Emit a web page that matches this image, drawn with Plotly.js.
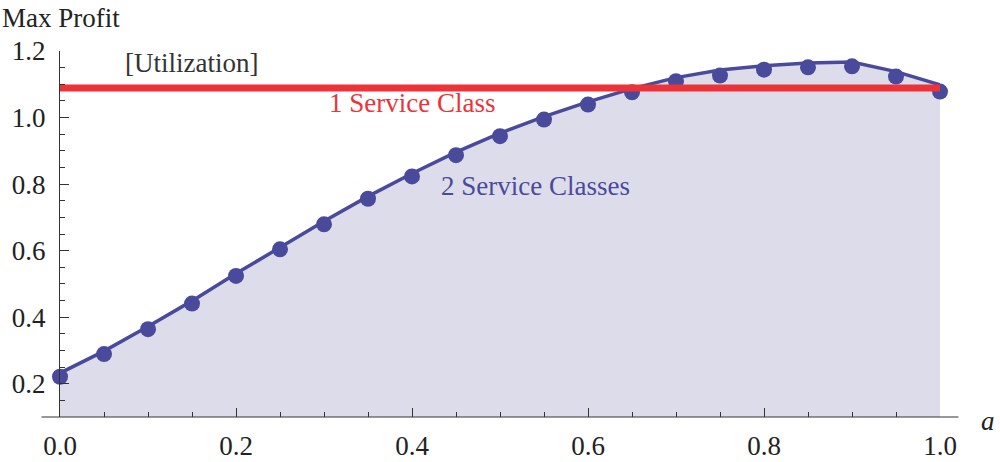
<!DOCTYPE html>
<html>
<head>
<meta charset="utf-8">
<script src="https://cdn.plot.ly/plotly-3.0.1.min.js"></script>
<style>
  html, body { margin: 0; padding: 0; background: #fff; }
  #chart { width: 1000px; height: 462px; }
</style>
</head>
<body>
<div id="chart"></div>
<script>
// a values shared by the curve and the simulated points
var alphaVals = [0, 0.05, 0.1, 0.15, 0.2, 0.25, 0.3, 0.35, 0.4, 0.45, 0.5,
                 0.55, 0.6, 0.65, 0.7, 0.75, 0.8, 0.85, 0.9, 0.95, 1.0];

// 2 service classes - analytic curve
var twoClassCurve = [0.232, 0.298, 0.372, 0.449, 0.531, 0.611, 0.688, 0.763, 0.832, 0.896, 0.953,
                     1.003, 1.047, 1.087, 1.120, 1.143, 1.156, 1.164, 1.167, 1.138, 1.098];

// 2 service classes - points
var twoClassPoints = [0.221, 0.289, 0.364, 0.441, 0.524, 0.604, 0.679, 0.756, 0.823, 0.887, 0.944,
                      0.994, 1.039, 1.076, 1.109, 1.126, 1.144, 1.151, 1.154, 1.123, 1.078];

// 1 service class - constant
var oneClassX = [0, 1];
var oneClassY = [1.089, 1.089];

var blue = '#4a4a9c';
var red = '#ee3338';
var serif = "Liberation Serif, DejaVu Serif, serif";

var curve = {
    x: alphaVals,
    y: twoClassCurve,
    type: 'scatter',
    mode: 'lines',
    line: {color: blue, width: 3.5},
    fill: 'tozeroy',
    fillcolor: '#dcdceb'
};

var points = {
    x: alphaVals,
    y: twoClassPoints,
    type: 'scatter',
    mode: 'markers',
    marker: {color: blue, size: 16},
    cliponaxis: false
};

var oneClass = {
    x: oneClassX,
    y: oneClassY,
    type: 'scatter',
    mode: 'lines',
    line: {color: red, width: 7}
};

var data = [curve, points, oneClass];

var tickFont = {family: serif, size: 27, color: '#222'};

var layout = {
    width: 1000,
    height: 462,
    margin: {l: 60, r: 60, t: 51, b: 45},
    paper_bgcolor: '#fff',
    plot_bgcolor: '#fff',
    showlegend: false,
    font: {family: serif, size: 27, color: '#222'},
    xaxis: {
        range: [0, 1],
        showgrid: false,
        zeroline: false,
        showline: false,
        ticks: 'inside',
        ticklen: 9,
        tickwidth: 1,
        tickcolor: '#333',
        tickfont: tickFont,
        tickvals: [0, 0.2, 0.4, 0.6, 0.8, 1.0],
        ticktext: ['0.0', '0.2', '0.4', '0.6', '0.8', '1.0'],
        minor: {dtick: 0.05, tick0: 0, ticks: 'inside', ticklen: 5, tickcolor: '#333', showgrid: false},
        ticklabelstandoff: 10
    },
    yaxis: {
        range: [0.1, 1.2],
        showgrid: false,
        zeroline: false,
        showline: true,
        linecolor: '#333',
        linewidth: 1,
        ticks: 'inside',
        ticklen: 9,
        tickwidth: 1,
        tickcolor: '#333',
        tickfont: tickFont,
        tickvals: [0.2, 0.4, 0.6, 0.8, 1.0, 1.2],
        ticktext: ['0.2', '0.4', '0.6', '0.8', '1.0', '1.2'],
        minor: {dtick: 0.05, tick0: 0, ticks: 'inside', ticklen: 5, tickcolor: '#333', showgrid: false},
        ticklabelstandoff: 8
    },
    shapes: [
        // x axis line, running a little past both ends
        {type: 'line', xref: 'paper', yref: 'paper', x0: -0.021, x1: 1.021, y0: 0, y1: 0,
         line: {color: '#333', width: 1}}
    ],
    annotations: [
        {text: 'Max Profit', xref: 'paper', yref: 'paper', x: -0.068, y: 1.09,
         xanchor: 'left', yanchor: 'middle', showarrow: false,
         font: {family: serif, size: 27, color: '#222'}},
        {text: '<i>a</i>', xref: 'paper', yref: 'paper', x: 1.055, y: -0.01,
         xanchor: 'center', yanchor: 'middle', showarrow: false,
         font: {family: serif, size: 27, color: '#222'}},
        {text: '[Utilization]', x: 0.149, y: 1.164, xanchor: 'center', yanchor: 'middle',
         showarrow: false, font: {family: serif, size: 27, color: '#333'}},
        {text: '1 Service Class', x: 0.400, y: 1.045, xanchor: 'center', yanchor: 'middle',
         showarrow: false, font: {family: serif, size: 27, color: red}},
        {text: '2 Service Classes', x: 0.540, y: 0.795, xanchor: 'center', yanchor: 'middle',
         showarrow: false, font: {family: serif, size: 27, color: blue}}
    ]
};

Plotly.newPlot('chart', data, layout, {staticPlot: true, displayModeBar: false});
</script>
</body>
</html>
